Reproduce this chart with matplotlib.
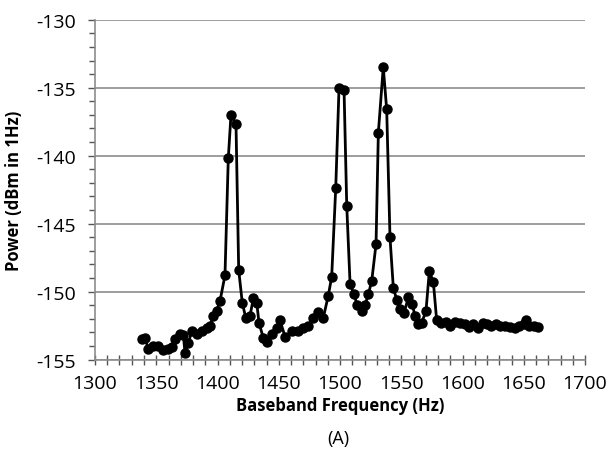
import matplotlib
matplotlib.use("Agg")
import matplotlib.pyplot as plt
from matplotlib.ticker import MultipleLocator

# values
freq = [1338.1, 1340.8, 1343.5, 1347.6, 1351.7, 1355.8, 1359.8, 1362.6, 1365.3, 1369.4,
        1372.1, 1373.5, 1376.2, 1378.9, 1383.0, 1387.1, 1391.2, 1393.9, 1396.6, 1399.3,
        1402.0, 1406.1, 1408.8, 1411.0, 1415.1, 1417.3, 1420.2, 1423.0, 1426.5, 1429.2,
        1432.0, 1433.9, 1437.4, 1440.2, 1444.2, 1448.3, 1451.0, 1455.1, 1460.6, 1466.0,
        1470.0, 1474.1, 1478.2, 1482.3, 1486.4, 1490.4, 1493.2, 1496.5, 1499.2, 1503.3,
        1505.5, 1508.2, 1511.4, 1514.1, 1517.7, 1520.4, 1523.1, 1525.9, 1529.4, 1531.3,
        1535.3, 1538.1, 1540.8, 1543.5, 1546.3, 1549.0, 1552.2, 1555.8, 1559.0, 1561.2,
        1563.9, 1566.7, 1570.2, 1572.9, 1576.2, 1578.9, 1582.4, 1586.3, 1589.8, 1593.9,
        1598.0, 1602.0, 1605.6, 1608.8, 1612.9, 1616.5, 1619.7, 1623.3, 1627.3, 1630.6,
        1634.7, 1638.8, 1642.9, 1646.4, 1650.2, 1651.8, 1654.6, 1658.4, 1661.9]
power = [-153.5, -153.4, -154.2, -154.0, -154.0, -154.3, -154.2, -154.1, -153.5, -153.1,
         -153.2, -154.5, -153.8, -152.9, -153.1, -152.9, -152.7, -152.5, -151.8, -151.4,
         -150.7, -148.8, -140.2, -137.0, -137.7, -148.4, -150.8, -151.9, -151.8, -150.5,
         -150.8, -152.3, -153.4, -153.7, -153.1, -152.7, -152.1, -153.3, -152.9, -152.9,
         -152.7, -152.5, -151.9, -151.5, -151.9, -150.3, -148.9, -142.4, -135.0, -135.2,
         -143.7, -149.4, -150.2, -151.0, -151.4, -151.0, -150.2, -149.2, -146.5, -138.3,
         -133.5, -136.6, -146.0, -149.7, -150.6, -151.3, -151.6, -150.4, -150.9, -151.8,
         -152.4, -152.3, -151.4, -148.5, -149.3, -152.1, -152.3, -152.2, -152.5, -152.2,
         -152.3, -152.4, -152.6, -152.4, -152.7, -152.3, -152.4, -152.5, -152.4, -152.5,
         -152.5, -152.6, -152.7, -152.5, -152.4, -152.1, -152.5, -152.5, -152.6]

plt.rcParams['font.family'] = ['Open Sans', 'DejaVu Sans']
plt.rcParams['axes.unicode_minus'] = False

fig = plt.figure(figsize=(6.07, 4.52), dpi=100)
ax = fig.add_axes([0.1565, 0.202, 0.8073, 0.7522])

ax.plot(freq, power, color="black", lw=2.0, marker="o", ms=6.5, zorder=3)

ax.set_xlim(1300, 1700)
ax.set_ylim(-155, -130)
ax.xaxis.set_major_locator(MultipleLocator(50))
ax.xaxis.set_minor_locator(MultipleLocator(10))
ax.yaxis.set_major_locator(MultipleLocator(5))
ax.yaxis.set_minor_locator(MultipleLocator(1))

ax.grid(axis="y", which="major", color="#8c8c8c", lw=1.2)
ax.set_axisbelow(True)
for s in ["top", "right"]:
    ax.spines[s].set_visible(False)
for s in ["left", "bottom"]:
    ax.spines[s].set_color("#8c8c8c")
    ax.spines[s].set_linewidth(1.2)

ax.tick_params(axis="both", which="both", color="#555555", width=1.0)
ax.tick_params(axis="x", which="both", direction="inout", length=7, pad=7, labelsize=14)
ax.tick_params(axis="y", which="major", direction="out", length=5, pad=9, labelsize=14)
ax.tick_params(axis="y", which="minor", direction="out", length=4)

ax.set_xlabel("Baseband Frequency (Hz)", fontsize=12, fontweight="bold", labelpad=3)
ax.set_ylabel("Power (dBm in 1Hz)", fontsize=12, fontweight="bold", labelpad=9)
fig.text(0.557, 0.029, "(A)", fontsize=13, ha="center", va="center")

fig.savefig("out.png", dpi=100)
